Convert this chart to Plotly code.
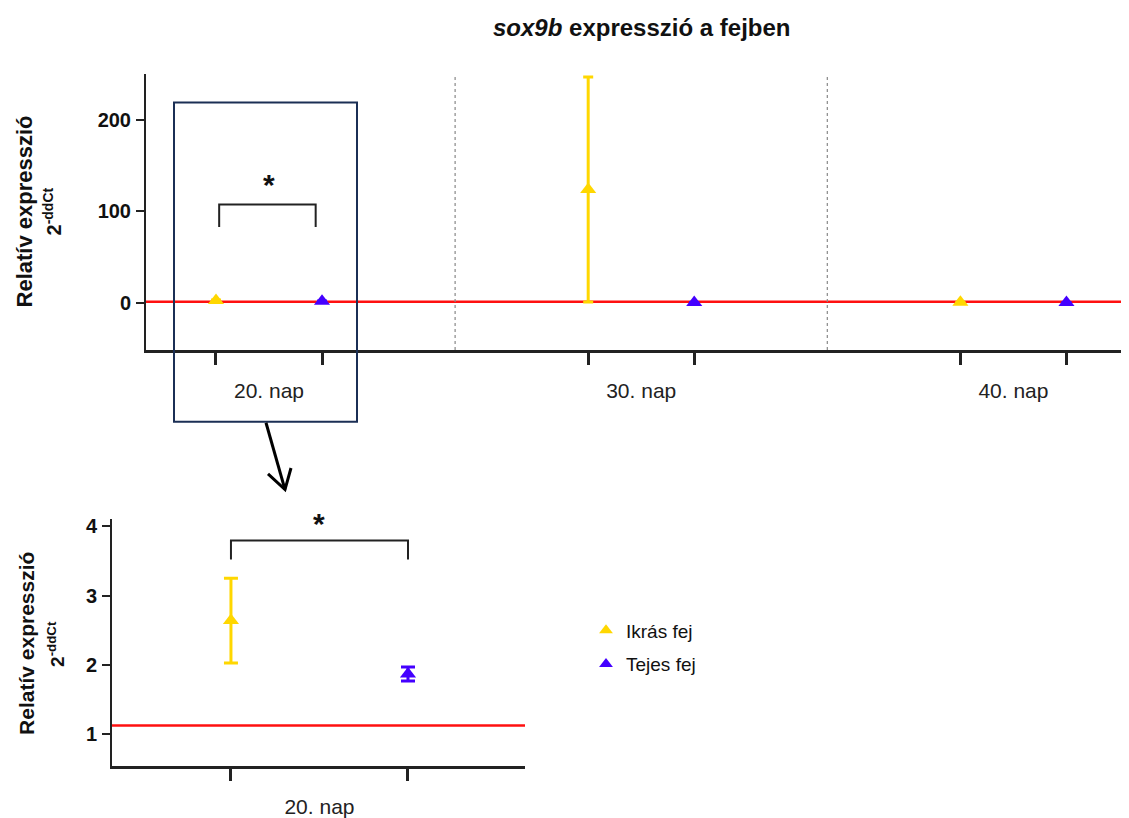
import plotly.graph_objects as go

# ---------------- data ----------------
categories = ["20. nap", "30. nap", "40. nap"]
series_names = ["Ikrás fej", "Tejes fej"]
ikras_mean = [2.64, 124.0, 0.8]
ikras_err = [0.61, 123.0, 0.0]
tejes_mean = [1.87, 0.5, 0.5]
tejes_err = [0.10, 0.0, 0.0]
ref_line = 1.13
top_yticks = [0, 100, 200]
inset_yticks = [1, 2, 3, 4]
inset_category = "20. nap"

# page body adds an 8px margin; figure sized to fit the 1129x818 window
OFF = 8
W, H = 1129 - OFF, 818 - OFF
YELLOW = "#FFD700"
BLUE = "#4400FF"
FONT = "Liberation Sans, Arial, sans-serif"

group_gap = 3.51
offset = 0.5
centers = [i * group_gap for i in range(len(categories))]
x_ikras = [c - offset for c in centers]
x_tejes = [c + offset for c in centers]


def px(x):
    return (x - OFF) / W


def py(y):
    return 1 - (y - OFF) / H


fig = go.Figure()

# top panel traces
fig.add_trace(go.Scatter(
    x=x_ikras, y=ikras_mean, mode="markers", name=series_names[0],
    marker=dict(symbol="triangle-up", size=14, color=YELLOW),
    error_y=dict(type="data", array=ikras_err, color=YELLOW, thickness=3, width=5),
    xaxis="x", yaxis="y", showlegend=False, cliponaxis=False))
fig.add_trace(go.Scatter(
    x=x_tejes, y=tejes_mean, mode="markers", name=series_names[1],
    marker=dict(symbol="triangle-up", size=14, color=BLUE),
    error_y=dict(type="data", array=tejes_err, color=BLUE, thickness=3, width=5),
    xaxis="x", yaxis="y", showlegend=False, cliponaxis=False))

# inset traces (20. nap only)
fig.add_trace(go.Scatter(
    x=[-offset], y=[ikras_mean[0]], mode="markers", name=series_names[0],
    legendgroup="a", marker=dict(symbol="triangle-up", size=14, color=YELLOW),
    error_y=dict(type="data", array=[ikras_err[0]], color=YELLOW, thickness=3, width=7),
    xaxis="x2", yaxis="y2", showlegend=True))
fig.add_trace(go.Scatter(
    x=[offset], y=[tejes_mean[0]], mode="markers", name=series_names[1],
    legendgroup="b", marker=dict(symbol="triangle-up", size=14, color=BLUE),
    error_y=dict(type="data", array=[tejes_err[0]], color=BLUE, thickness=3, width=7),
    xaxis="x2", yaxis="y2", showlegend=True))

top_xrange = [x_ikras[0] - 0.66, x_tejes[-1] + 0.59]
inset_xrange = [-offset - 0.672, -offset + 1.661]

shapes = []
# red reference lines
shapes.append(dict(type="line", xref="x domain", yref="y", x0=0, x1=1, y0=ref_line, y1=ref_line,
                   line=dict(color="#FF1010", width=2.5), layer="below"))
shapes.append(dict(type="line", xref="x2 domain", yref="y2", x0=0, x1=1, y0=ref_line, y1=ref_line,
                   line=dict(color="#FF1010", width=2.5), layer="below"))
# dotted separators
for i in range(len(categories) - 1):
    xs = (centers[i] + centers[i + 1]) / 2
    shapes.append(dict(type="line", xref="x", yref="y domain", x0=xs, x1=xs, y0=0, y1=1,
                       line=dict(color="#888888", width=1.2, dash="dot"), layer="below"))
# significance bracket top
shapes.append(dict(type="path", xref="x", yref="y",
                   path=f"M {x_ikras[0]+0.03} 83 L {x_ikras[0]+0.03} 107.5 L {x_tejes[0]-0.06} 107.5 L {x_tejes[0]-0.06} 83",
                   line=dict(color="#222222", width=2)))
# significance bracket inset
shapes.append(dict(type="path", xref="x2", yref="y2",
                   path=f"M {-offset} 3.52 L {-offset} 3.79 L {offset} 3.79 L {offset} 3.52",
                   line=dict(color="#222222", width=2)))
# navy rectangle highlight
shapes.append(dict(type="rect", xref="paper", yref="paper",
                   x0=px(174), x1=px(357), y0=py(425), y1=py(100),
                   line=dict(color="#1B2F55", width=2), fillcolor="rgba(0,0,0,0)"))
# arrow
shapes.append(dict(type="path", xref="paper", yref="paper",
                   path=f"M {px(266)} {py(426)} L {px(285)} {py(494)}",
                   line=dict(color="black", width=3)))
shapes.append(dict(type="path", xref="paper", yref="paper",
                   path=f"M {px(268)} {py(478)} L {px(285)} {py(494)} L {px(291)} {py(472)}",
                   line=dict(color="black", width=3)))

TXT = "#111111"
annotations = [
    dict(text="<b><i>sox9b</i> expresszió a fejben</b>", x=px(641), y=py(24), xref="paper", yref="paper",
         xanchor="center", yanchor="middle",
         showarrow=False, font=dict(size=24, color=TXT, family=FONT)),
    dict(text="<b>Relatív expresszió</b>", x=px(24), y=py(211), xref="paper", yref="paper",
         xanchor="center", yanchor="middle",
         textangle=-90, showarrow=False, font=dict(size=22, color=TXT, family=FONT)),
    dict(text="<b>2<sup>-ddCt</sup></b>", x=px(52), y=py(211), xref="paper", yref="paper",
         xanchor="center", yanchor="middle",
         textangle=-90, showarrow=False, font=dict(size=20, color=TXT, family=FONT)),
    dict(text="<b>Relatív expresszió</b>", x=px(27), y=py(651), xref="paper", yref="paper",
         xanchor="center", yanchor="middle",
         textangle=-90, showarrow=False, font=dict(size=21, color=TXT, family=FONT)),
    dict(text="<b>2<sup>-ddCt</sup></b>", x=px(56), y=py(651), xref="paper", yref="paper",
         xanchor="center", yanchor="middle",
         textangle=-90, showarrow=False, font=dict(size=19, color=TXT, family=FONT)),
    dict(text="<b>*</b>", x=(x_ikras[0] + x_tejes[0]) / 2, y=130, xref="x", yref="y",
         xanchor="center", yanchor="middle",
         showarrow=False, font=dict(size=30, color=TXT, family=FONT)),
    dict(text="<b>*</b>", x=0, y=4.03, xref="x2", yref="y2",
         xanchor="center", yanchor="middle",
         showarrow=False, font=dict(size=30, color=TXT, family=FONT)),
]

tickfont_bold = dict(size=20, color=TXT, family=FONT, weight="bold")
xtickfont = dict(size=21, color="#222222", family=FONT)

fig.update_layout(
    width=W, height=H,
    margin=dict(l=0, r=0, t=0, b=0),
    paper_bgcolor="white", plot_bgcolor="white",
    shapes=shapes, annotations=annotations,
    xaxis=dict(domain=[px(146), 1.0], anchor="y", range=top_xrange,
               tickvals=centers, ticktext=categories, ticks="", ticklabelstandoff=20,
               tickfont=xtickfont, showgrid=False, zeroline=False,
               showline=True, linecolor="#222222", linewidth=3,
               minor=dict(tickvals=x_ikras + x_tejes, ticks="outside", ticklen=12,
                          tickwidth=2.5, tickcolor="#222222", showgrid=False)),
    yaxis=dict(domain=[py(352), py(71)], anchor="x", range=[-51.6, 250.5],
               tickvals=top_yticks, ticks="outside", ticklen=8, tickwidth=2,
               tickcolor="#222222", tickfont=tickfont_bold, showgrid=False, zeroline=False,
               showline=True, linecolor="#222222", linewidth=2, ticklabelstandoff=1),
    xaxis2=dict(domain=[px(112), px(525)], anchor="y2", range=inset_xrange,
                tickvals=[0], ticktext=[inset_category], ticks="", ticklabelstandoff=20,
                tickfont=xtickfont, showgrid=False, zeroline=False,
                showline=True, linecolor="#222222", linewidth=3,
                minor=dict(tickvals=[-offset, offset], ticks="outside", ticklen=12,
                           tickwidth=2.5, tickcolor="#222222", showgrid=False)),
    yaxis2=dict(domain=[py(775), py(524)], anchor="x2", range=[0.55, 4.1],
                tickvals=inset_yticks, ticks="outside", ticklen=8, tickwidth=2,
                tickcolor="#222222", tickfont=tickfont_bold, showgrid=False, zeroline=False,
                showline=True, linecolor="#222222", linewidth=2, ticklabelstandoff=1),
    legend=dict(x=px(586), y=py(618), xanchor="left", yanchor="top",
                font=dict(size=19, color=TXT, family=FONT),
                bgcolor="rgba(0,0,0,0)", itemsizing="constant", tracegroupgap=6),
    showlegend=True,
)

fig.write_html("out.html")
